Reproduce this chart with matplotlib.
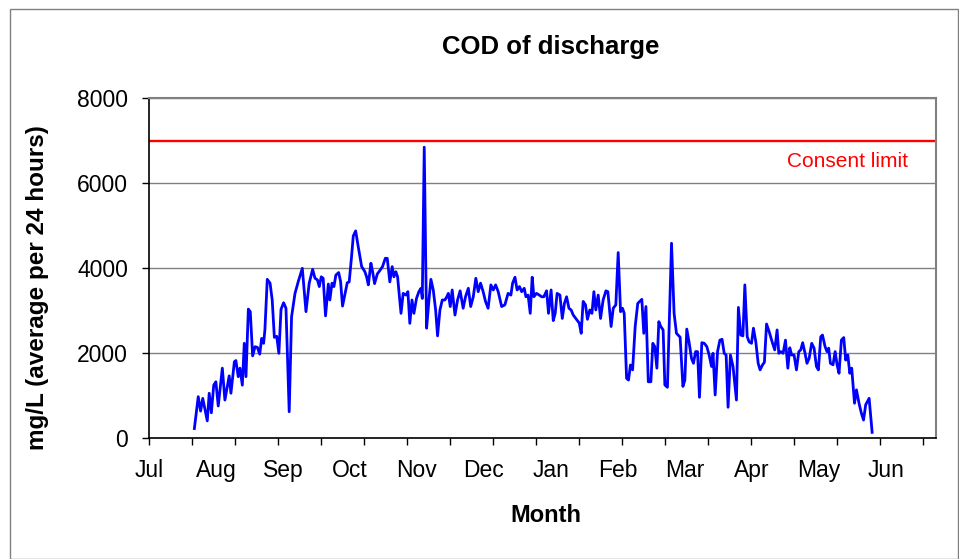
import numpy as np
import matplotlib
matplotlib.use('Agg')
import matplotlib.pyplot as plt
from matplotlib.patches import Rectangle

plt.rcParams['font.family'] = ['Liberation Sans', 'DejaVu Sans']

# days counted from 1 July, daily COD of discharge (mg/L)
day = [21.1, 22.9, 24.0, 25.0, 27.1, 28.0, 29.0, 30.1, 31.1, 32.2, 34.1, 35.3, 37.3, 38.1,
       39.7, 40.4, 41.5, 42.3, 43.4, 44.3, 45.1, 46.2, 47.1, 48.2, 49.3, 50.4, 51.5, 52.4,
       53.3, 53.9, 55.0, 56.3, 57.3, 58.3, 59.4, 60.4, 61.4, 62.6, 63.7, 65.2, 66.3, 67.9,
       69.4, 71.3, 73.0, 74.5, 76.1, 77.2, 78.3, 79.2, 80.1, 81.0, 82.1, 83.4, 84.1, 85.1,
       86.0, 86.9, 88.2, 89.1, 90.0, 91.3, 92.2, 93.1, 94.2, 95.0, 96.1, 97.3, 98.9, 100.4,
       101.2, 102.0, 103.2, 104.0, 104.9, 106.2, 107.4, 108.6, 109.9, 110.8, 112.0, 113.1,
       113.9, 114.8, 115.6, 117.2, 118.2, 119.5, 120.4, 121.3, 122.3, 123.2, 124.4, 125.5,
       126.5, 127.1, 128.0, 129.1, 130.2, 131.1, 132.2, 133.3, 134.2, 135.3, 136.4, 137.6,
       138.5, 139.2, 140.1, 141.0, 142.3, 143.5, 144.7, 146.1, 147.2, 148.5, 149.6, 150.8,
       152.0, 153.1, 154.2, 155.4, 156.5, 157.7, 159.0, 160.1, 161.2, 162.4, 164.0, 165.5,
       167.0, 168.3, 169.1, 170.2, 171.2, 172.3, 173.3, 174.5, 175.3, 176.3, 177.3, 178.2,
       179.0, 180.2, 181.5, 182.6, 183.6, 184.9, 185.8, 187.0, 188.0, 188.9, 189.8, 191.1,
       192.2, 193.2, 194.2, 195.3, 196.3, 197.3, 198.8, 200.1, 201.0, 201.9, 203.0, 203.9,
       205.0, 206.0, 206.9, 207.8, 208.9, 210.0, 211.2, 212.5, 213.4, 214.9, 215.9, 217.1,
       218.2, 219.3, 220.2, 221.0, 222.1, 223.0, 223.9, 224.9, 226.1, 227.3, 229.2, 230.1,
       231.1, 232.2, 233.4, 234.3, 235.2, 236.2, 237.1, 238.0, 239.1, 239.9, 241.1, 243.0,
       244.2, 245.3, 247.0, 248.3, 249.2, 250.1, 251.2, 252.3, 253.2, 254.2, 255.1, 256.0,
       257.1, 258.2, 259.4, 260.5, 261.6, 262.3, 263.3, 264.4, 265.5, 266.5, 267.5, 268.4,
       269.3, 270.4, 271.6, 273.2, 274.1, 275.2, 276.2, 277.1, 278.2, 279.1, 280.2, 281.1,
       282.2, 283.3, 284.2, 285.3, 286.2, 287.2, 288.4, 290.0, 291.0, 292.1, 292.9, 293.8,
       294.9, 296.0, 297.1, 298.0, 298.9, 300.0, 301.1, 302.2, 303.1, 304.0, 305.1, 306.0,
       307.0, 308.2, 309.3, 310.4, 311.3, 312.4, 313.2, 314.4, 315.3, 316.1, 316.9, 318.1,
       319.1, 320.0, 320.9, 322.0, 323.1, 324.0, 325.0, 325.9, 326.8, 328.1, 329.0, 330.2,
       331.3, 332.3, 333.3, 334.9, 336.3]

cod = [230, 980, 640, 940, 410, 1060, 600, 1250, 1330, 760, 1650, 900, 1470, 1060,
       1800, 1830, 1450, 1650, 1250, 2235, 1450, 3040, 2980, 1940, 2155, 2140, 1980, 2350,
       2235, 2550, 3740, 3650, 3255, 2375, 2400, 2000, 3035, 3190, 3060, 625, 2860, 3410,
       3685, 4000, 2980, 3650, 3975, 3765, 3730, 3570, 3800, 3765, 2880, 3630, 3255, 3650,
       3570, 3840, 3900, 3690, 3110, 3430, 3660, 3680, 4275, 4760, 4880, 4510, 4040, 3920,
       3800, 3610, 4120, 3920, 3640, 3870, 3950, 4040, 4235, 4235, 3680, 4040,
       3800, 3920, 3800, 2940, 3410, 3370, 3450, 2705, 3255, 2940, 3290, 3450,
       3530, 3290, 6850, 2590, 3255, 3740, 3490, 3020, 2410, 3020, 3255, 3255,
       3330, 3410, 3100, 3490, 2900, 3255, 3470, 3060, 3330, 3530, 3100, 3330,
       3765, 3450, 3650, 3450, 3220, 3060, 3610, 3490, 3610, 3450, 3100, 3140,
       3410, 3370, 3650, 3790, 3490, 3570, 3450, 3530, 3330, 3370, 2940, 3790,
       3330, 3410, 3370, 3330, 3330, 3470, 2940, 3490, 2770, 2940, 3410, 3370,
       2820, 3175, 3330, 3060, 3020, 2900, 2800, 2710, 2470, 3220, 3140, 2800,
       3020, 2940, 3450, 3020, 3370, 2820, 3255, 3470, 3450, 2630, 3060, 3140,
       4370, 2980, 3060, 2940, 1410, 1370, 1725, 1610, 2630, 3175, 3270, 2470,
       3100, 1330, 1330, 2235, 2160, 1650, 2745, 2630, 2550, 1255, 1200, 4590,
       2940, 2470, 2380, 1220, 1370, 2570, 2250, 1880, 1765, 2040, 2040, 965,
       2250, 2235, 2160, 1960, 1690, 2000, 1020, 2040, 2310, 2330, 2000, 1960,
       730, 1960, 1690, 900, 3080, 2430, 2410, 3610, 2390, 2270, 2235, 2590,
       2270, 1765, 1610, 1725, 1790, 2690, 2510, 2235, 2080, 2550, 2000, 2040,
       2000, 2310, 1650, 2130, 1960, 1960, 1610, 2040, 2080, 2250, 2000, 1765,
       1880, 2235, 2120, 1690, 1610, 2390, 2430, 2160, 2040, 2120, 1765, 1730,
       2040, 1730, 1530, 2310, 2370, 1840, 1960, 1530, 1650, 825, 1140, 825,
       590, 430, 790, 940, 140]

consent_limit = 7000
months = ['Jul', 'Aug', 'Sep', 'Oct', 'Nov', 'Dec', 'Jan', 'Feb', 'Mar', 'Apr', 'May', 'Jun']

W, H = 959, 559
fig = plt.figure(figsize=(W / 100, H / 100), dpi=100)
ax = fig.add_axes([149 / W, 1 - 438.3 / H, (936 - 149) / W, 340 / H])

ax.plot(day, cod, color='#0000ff', lw=2.0, zorder=3)
ax.axhline(consent_limit, color='#ff0000', lw=1.7, zorder=2)
ax.text(353, 6520, 'Consent limit', color='#ff0000', fontsize=15, ha='right', va='center')

ax.set_xlim(0, 366)
ax.set_ylim(0, 8000)
ax.set_yticks(np.arange(0, 8001, 2000))
ax.xaxis.remove_overlapping_locs = False
ax.set_xticks(np.arange(0, 361, 20))
ax.set_xticklabels([])
ax.set_xticks(np.arange(12) * 31.15, labels=months, minor=True)
ax.grid(axis='y', color='#808080', lw=1)
ax.set_axisbelow(True)

ax.tick_params(axis='both', which='major', direction='out', length=5, width=1, labelsize=16.5)
ax.tick_params(axis='y', pad=10)
ax.tick_params(axis='x', which='minor', length=0, pad=15, labelsize=16.5)

for side in ['left', 'bottom']:
    ax.spines[side].set_color('black')
    ax.spines[side].set_linewidth(1.2)
for side in ['top', 'right']:
    ax.spines[side].set_color('#808080')
    ax.spines[side].set_linewidth(1.5)

fig.text(551 / W, 1 - 47 / H, 'COD of discharge', fontsize=18.5, fontweight='bold',
         ha='center', va='center')
fig.text(546 / W, 1 - 516 / H, 'Month', fontsize=17, fontweight='bold',
         ha='center', va='center')
fig.text(38 / W, 1 - 287.5 / H, 'mg/L (average per 24 hours)', fontsize=17.5,
         fontweight='bold', rotation=90, ha='center', va='center')

fig.patches.append(Rectangle((10 / W, 0.5 / H), (W - 11) / W, (H - 9) / H,
                             transform=fig.transFigure, fill=False,
                             edgecolor='#808080', lw=1))

fig.savefig('out.png', dpi=100)
